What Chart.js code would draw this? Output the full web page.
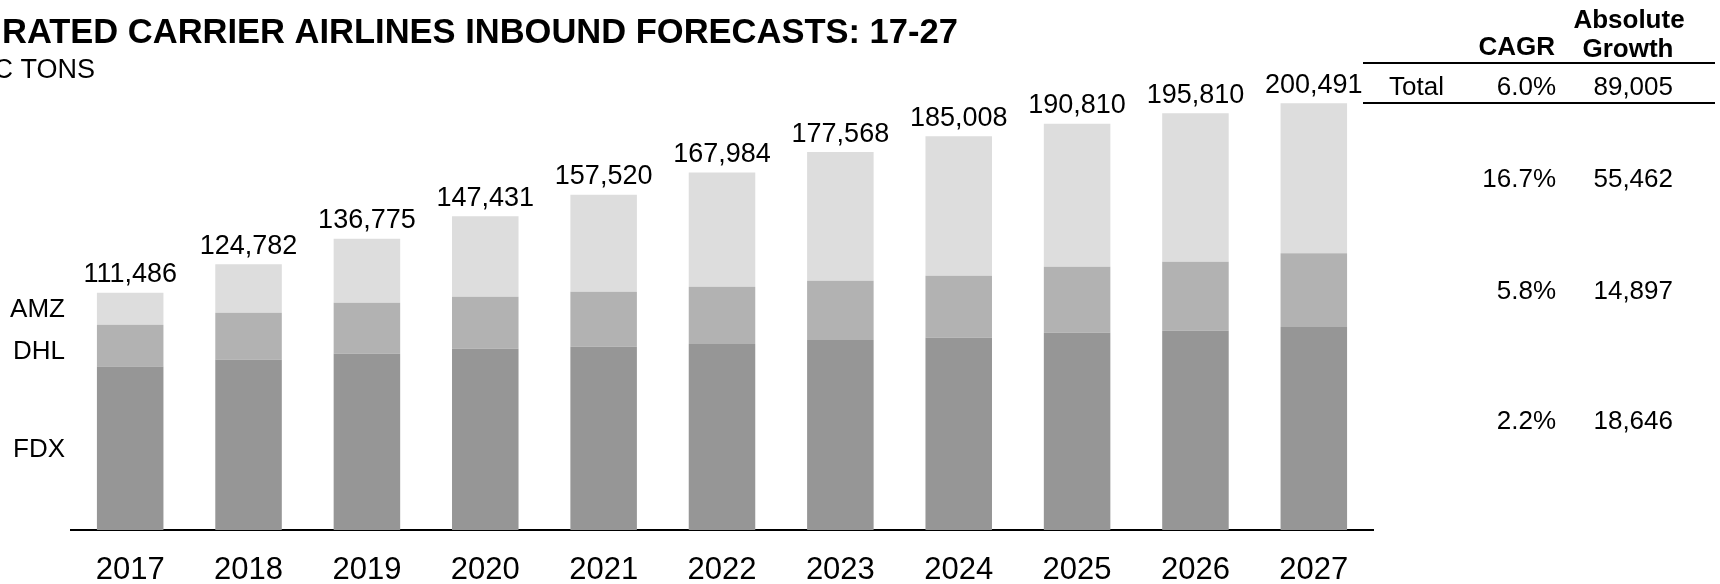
<!DOCTYPE html>
<html>
<head>
<meta charset="utf-8">
<script src="https://cdn.jsdelivr.net/npm/chart.js@4/dist/chart.umd.min.js"></script>
<style>
  html, body { margin: 0; padding: 0; background: #fff; }
  #wrap { width: 1720px; height: 584px; }
</style>
</head>
<body>
<div id="wrap"><canvas id="myChart" width="1720" height="584"></canvas></div>
<script>
// data (metric tons)
var years = ['2017', '2018', '2019', '2020', '2021', '2022', '2023', '2024', '2025', '2026', '2027'];
var fdx = [76765, 80010, 82830, 85170, 86110, 87380, 89260, 90340, 92690, 93630, 95411];
var dhl = [19679, 22080, 23960, 24430, 25840, 26920, 27860, 29130, 31010, 32420, 34576];
var amz = [15042, 22692, 29985, 37831, 45570, 53684, 60448, 65538, 67110, 69760, 70504];
var totals = ['111,486', '124,782', '136,775', '147,431', '157,520', '167,984', '177,568', '185,008', '190,810', '195,810', '200,491'];

// right hand table
var tableRows = ['Total', '', '', ''];
var cagr = ['6.0%', '16.7%', '5.8%', '2.2%'];
var growth = ['89,005', '55,462', '14,897', '18,646'];

var FONT = '"Liberation Sans", Arial, sans-serif';

var labelsPlugin = {
  id: 'labelsPlugin',
  afterDraw: function(chart) {
    var ctx = chart.ctx;
    ctx.save();
    ctx.fillStyle = '#000';

    // title + subtitle (cut off at the left edge like the original slide)
    ctx.font = 'bold 34.5px ' + FONT;
    ctx.textAlign = 'left';
    ctx.textBaseline = 'alphabetic';
    var cut = ctx.measureText('INTEG').width;
    ctx.fillText('INTEGRATED CARRIER AIRLINES INBOUND FORECASTS: 17-27', 2 - cut, 43);
    ctx.font = '27px ' + FONT;
    ctx.textAlign = 'right';
    ctx.fillText('METRIC TONS', 95, 78);

    // totals on top of each bar
    var top = chart.getDatasetMeta(2);
    ctx.font = '27px ' + FONT;
    ctx.textAlign = 'center';
    top.data.forEach(function(bar, i) {
      ctx.fillText(totals[i], bar.x, bar.y - 10.5);
    });

    // series names next to the first bar
    ctx.font = '26px ' + FONT;
    ctx.textAlign = 'right';
    ctx.textBaseline = 'middle';
    var offs = [2, 6, 1];
    chart.data.datasets.forEach(function(ds, d) {
      var b = chart.getDatasetMeta(d).data[0];
      ctx.fillText(ds.label, 65, (b.y + b.base) / 2 + offs[d]);
    });

    // table
    ctx.textBaseline = 'alphabetic';
    ctx.font = 'bold 26px ' + FONT;
    ctx.textAlign = 'right';
    ctx.fillText('CAGR', 1555, 55);
    ctx.textAlign = 'center';
    ctx.fillText('Absolute', 1629, 28);
    ctx.fillText('Growth', 1628, 57);

    ctx.strokeStyle = '#000';
    ctx.lineWidth = 2;
    ctx.beginPath();
    ctx.moveTo(1363, 63); ctx.lineTo(1715, 63);
    ctx.moveTo(1363, 103); ctx.lineTo(1715, 103);
    ctx.stroke();

    var rowY = [95, 187, 299, 429];
    ctx.font = '26px ' + FONT;
    for (var r = 0; r < cagr.length; r++) {
      ctx.textAlign = 'left';
      ctx.fillText(tableRows[r], 1389, rowY[r]);
      ctx.textAlign = 'right';
      ctx.fillText(cagr[r], 1556, rowY[r]);
      ctx.fillText(growth[r], 1673, rowY[r]);
    }
    ctx.restore();
  }
};

var ctx = document.getElementById('myChart').getContext('2d');
new Chart(ctx, {
  type: 'bar',
  data: {
    labels: years,
    datasets: [
      { label: 'FDX', data: fdx, backgroundColor: '#969696' },
      { label: 'DHL', data: dhl, backgroundColor: '#b2b2b2' },
      { label: 'AMZ', data: amz, backgroundColor: '#dddddd' }
    ]
  },
  options: {
    responsive: false,
    animation: false,
    layout: { padding: { top: 100, left: 71, right: 347, bottom: 0 } },
    datasets: { bar: { barPercentage: 0.562, categoryPercentage: 1, borderWidth: 0 } },
    scales: {
      x: {
        stacked: true,
        grid: { display: false, drawTicks: false },
        border: { display: true, color: '#000', width: 2 },
        ticks: { color: '#000', font: { family: FONT, size: 31 }, padding: 22 },
        afterFit: function(s) { s.height = 54; }
      },
      y: {
        stacked: true,
        display: false,
        min: 0,
        max: 202000
      }
    },
    plugins: {
      legend: { display: false },
      tooltip: { enabled: false }
    }
  },
  plugins: [labelsPlugin]
});
</script>
</body>
</html>
